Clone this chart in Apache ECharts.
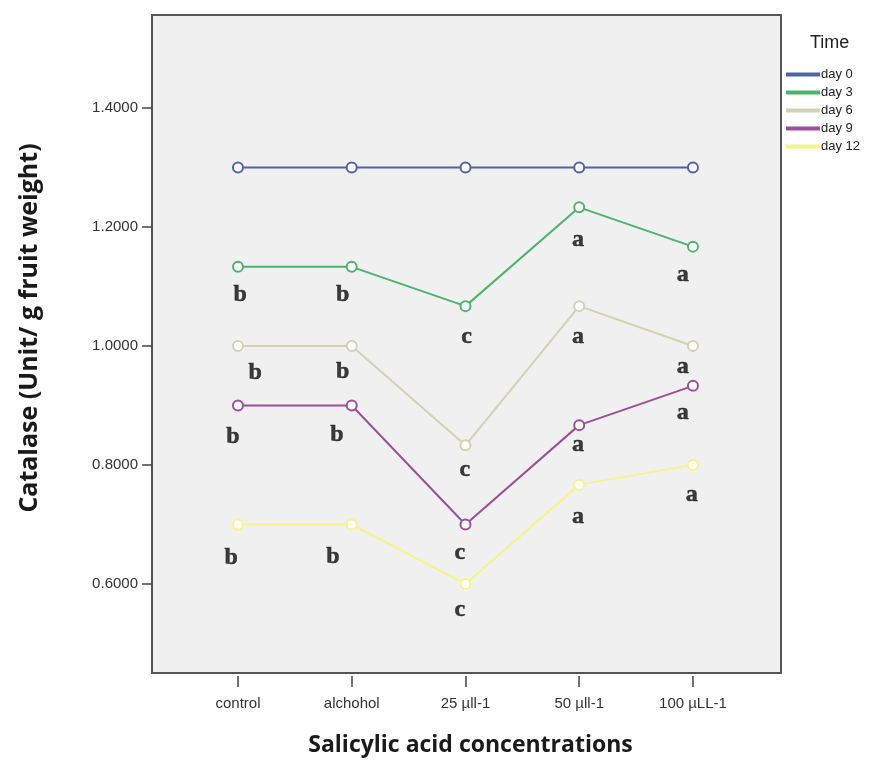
<!DOCTYPE html>
<html>
<head>
<meta charset="utf-8">
<style>html,body{margin:0;padding:0;background:#fff;}#chart{width:876px;height:762px;}</style>
<script src="https://cdn.jsdelivr.net/npm/echarts@6/dist/echarts.min.js"></script>
</head>
<body>
<div id="chart"></div>
<script>
const categories = ['control', 'alchohol', '25 µll-1', '50 µll-1', '100 µLL-1'];
const yTicks = [0.6, 0.8, 1.0, 1.2, 1.4];
const seriesNames = ['day 0', 'day 3', 'day 6', 'day 9', 'day 12'];
const day0 = [1.300, 1.300, 1.300, 1.300, 1.300];
const day3 = [1.133, 1.133, 1.067, 1.233, 1.167];
const day6 = [1.000, 1.000, 0.833, 1.067, 1.000];
const day9 = [0.900, 0.900, 0.700, 0.867, 0.933];
const day12 = [0.700, 0.700, 0.600, 0.767, 0.800];
const colors = ['#4f62ae', '#4cb36b', '#d3d1b3', '#9a4f9b', '#f6f48c'];

// significance letters: text, x position (category units), y position (data units)
const letters3 = ['b', 'b', 'c', 'a', 'a'];
const letters3X = [0.02, 0.92, 2.01, 2.99, 3.91];
const letters3Y = [1.086, 1.086, 1.015, 1.178, 1.119];
const letters6 = ['b', 'b', 'c', 'a', 'a'];
const letters6X = [0.15, 0.92, 1.995, 2.99, 3.91];
const letters6Y = [0.955, 0.956, 0.792, 1.015, 0.965];
const letters9 = ['b', 'b', 'c', 'a', 'a'];
const letters9X = [-0.044, 0.87, 1.95, 2.99, 3.91];
const letters9Y = [0.847, 0.850, 0.652, 0.834, 0.887];
const letters12 = ['b', 'b', 'c', 'a', 'a'];
const letters12X = [-0.06, 0.835, 1.95, 2.99, 3.99];
const letters12Y = [0.644, 0.645, 0.556, 0.713, 0.750];

const allData = [day0, day3, day6, day9, day12];
const letterSets = [
  [letters3, letters3X, letters3Y],
  [letters6, letters6X, letters6Y],
  [letters9, letters9X, letters9Y],
  [letters12, letters12X, letters12Y]
];

const chart = echarts.init(document.getElementById('chart'), null, {renderer: 'canvas'});

const lineSeries = allData.map((d, i) => ({
  name: seriesNames[i],
  type: 'line',
  data: d.map((v, j) => [j, v]),
  symbol: 'emptyCircle',
  symbolSize: 10,
  lineStyle: {color: colors[i], width: 2},
  itemStyle: {color: colors[i], borderColor: colors[i], borderWidth: 1.5},
  emphasis: {disabled: true},
  z: 3
}));

const letterData = [];
letterSets.forEach(s => {
  s[0].forEach((t, j) => letterData.push([s[1][j], s[2][j], t]));
});

const letterSeries = {
  type: 'scatter',
  data: letterData,
  symbolSize: 1,
  itemStyle: {color: 'rgba(0,0,0,0)'},
  label: {
    show: true,
    position: 'inside',
    formatter: p => p.data[2],
    fontFamily: 'Liberation Serif',
    fontWeight: 'bold',
    fontSize: 24,
    color: '#0d0d0d',
    textBorderColor: '#0d0d0d',
    textBorderWidth: 0.5
  },
  silent: true,
  z: 5
};

chart.setOption({
  backgroundColor: '#ffffff',
  animation: false,
  title: {
    text: 'Time',
    left: 805,
    top: 29,
    textStyle: {fontFamily: 'Liberation Sans', fontSize: 18, fontWeight: 'normal', color: '#222'}
  },
  legend: {
    data: seriesNames.map((n, i) => ({name: n, icon: 'rect', itemStyle: {color: colors[i]}})),
    orient: 'vertical',
    left: 781,
    top: 63,
    itemWidth: 32,
    itemHeight: 2,
    itemGap: 5,
    textStyle: {fontFamily: 'Liberation Sans', fontSize: 13, color: '#222', padding: [0, 0, 0, -3]},
    selectedMode: false
  },
  grid: {
    left: 152, right: 95, top: 15, bottom: 89,
    show: true,
    backgroundColor: '#f0f0f0',
    borderColor: '#555',
    borderWidth: 2
  },
  xAxis: {
    type: 'value',
    min: -0.756,
    max: 4.774,
    offset: 3,
    name: 'Salicylic acid concentrations',
    nameLocation: 'middle',
    nameGap: 58,
    nameTextStyle: {fontFamily: 'Open Sans', fontWeight: 'bold', fontSize: 23, color: '#1a1a1a', padding: [0, 0, 0, 8]},
    axisLine: {show: false, onZero: false},
    splitLine: {show: false},
    axisTick: {show: true, customValues: [0, 1, 2, 3, 4], length: 11, lineStyle: {color: '#444', width: 1.5}},
    axisLabel: {
      customValues: [0, 1, 2, 3, 4],
      formatter: v => categories[Math.round(v)],
      fontFamily: 'Liberation Sans',
      fontSize: 15,
      color: '#333',
      margin: 20
    }
  },
  yAxis: {
    type: 'value',
    min: 0.4504,
    max: 1.5563,
    name: 'Catalase (Unit/ g fruit weight)',
    nameLocation: 'middle',
    nameRotate: 90,
    nameGap: 110,
    nameTextStyle: {fontFamily: 'Open Sans', fontWeight: 'bold', fontSize: 25, color: '#1a1a1a', padding: [0, 0, 0, 32]},
    axisLine: {show: false, onZero: false},
    splitLine: {show: false},
    axisTick: {show: true, customValues: yTicks, length: 10, lineStyle: {color: '#444', width: 1.5}},
    axisLabel: {
      customValues: yTicks,
      formatter: v => v.toFixed(4),
      fontFamily: 'Liberation Sans',
      fontSize: 15,
      color: '#333',
      margin: 14
    }
  },
  series: lineSeries.concat([letterSeries])
});
</script>
</body>
</html>
